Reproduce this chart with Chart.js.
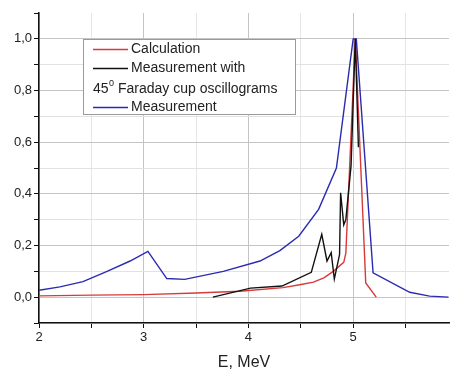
<!DOCTYPE html>
<html>
<head>
<meta charset="utf-8">
<style>
html,body{margin:0;padding:0;background:#fff;}
canvas{display:block;}
</style>
<script src="https://cdn.jsdelivr.net/npm/chart.js@4.4.0/dist/chart.umd.min.js"></script>
</head>
<body>
<canvas id="c" width="450" height="372"></canvas>
<script>
// Calculation (red)
const calcE = [2.0, 2.5, 3.0, 3.5, 3.92, 4.33, 4.49, 4.62, 4.72, 4.81, 4.91, 4.93, 5.02, 5.12, 5.22];
const calcV = [0.005, 0.008, 0.010, 0.016, 0.023, 0.037, 0.048, 0.058, 0.075, 0.100, 0.135, 0.170, 1.0, 0.055, 0.0];
// Measurement with 45° Faraday cup oscillograms (black)
const farE = [3.66, 4.02, 4.32, 4.60, 4.70, 4.75, 4.79, 4.82, 4.87, 4.88, 4.91, 4.93, 4.98, 5.02, 5.05];
const farV = [0.0, 0.035, 0.043, 0.096, 0.243, 0.140, 0.172, 0.070, 0.165, 0.404, 0.280, 0.300, 0.510, 1.0, 0.580];
// Measurement (blue)
const measE = [2.0, 2.2, 2.42, 2.65, 2.87, 3.04, 3.22, 3.39, 3.76, 4.11, 4.30, 4.48, 4.67, 4.84, 5.0, 5.03, 5.19, 5.54, 5.73, 5.91];
const measV = [0.027, 0.040, 0.060, 0.100, 0.140, 0.177, 0.072, 0.069, 0.100, 0.140, 0.180, 0.236, 0.340, 0.500, 1.0, 1.0, 0.094, 0.019, 0.004, 0.0];

const xMin = 2, xMax = 5.915, yMin = -0.1, yMax = 1.1;
const xTitle = 'E, MeV';
const legendItems = [
  {color: '#d83a3a', lines: [['Calculation']]},
  {color: '#111111', lines: [['Measurement with'], ['45', '0', ' Faraday cup oscillograms']]},
  {color: '#2b2bb0', lines: [['Measurement']]}
];

function pts(xs, ys){ return xs.map((x,i)=>({x:x, y:ys[i]})); }

const FONT = '"Liberation Sans", Arial, sans-serif';

const legendPlugin = {
  id: 'customLegend',
  afterDraw(chart){
    const ctx = chart.ctx;
    const bx = 83.5, by = 39.5, bw = 212, bh = 75;
    ctx.save();
    ctx.fillStyle = '#fff';
    ctx.fillRect(bx, by, bw, bh);
    ctx.strokeStyle = '#9a9a9a';
    ctx.lineWidth = 1;
    ctx.strokeRect(bx, by, bw, bh);
    ctx.font = '14px ' + FONT;
    ctx.textBaseline = 'middle';
    ctx.fillStyle = '#222';
    const rows = [49, 68, 89, 107];
    let r = 0;
    legendItems.forEach(item => {
      ctx.strokeStyle = item.color;
      ctx.lineWidth = 1.3;
      ctx.beginPath();
      ctx.moveTo(93, rows[r] + 0.5);
      ctx.lineTo(128, rows[r] + 0.5);
      ctx.stroke();
      item.lines.forEach((ln, k) => {
        const y = rows[r];
        if (ln.length === 1) {
          ctx.font = '14px ' + FONT;
          ctx.fillText(ln[0], 131, y);
        } else {
          let x = 93;
          ctx.font = '14px ' + FONT;
          ctx.fillText(ln[0], x, y);
          x += ctx.measureText(ln[0]).width + 0.5;
          ctx.font = '9px ' + FONT;
          ctx.fillText(ln[1], x, y - 5);
          x += ctx.measureText(ln[1]).width;
          ctx.font = '14px ' + FONT;
          ctx.fillText(ln[2], x, y);
        }
        r++;
      });
    });
    ctx.restore();
  }
};

const isMajorY = v => Math.round(v*10) % 2 === 0;

new Chart(document.getElementById('c'), {
  type: 'line',
  data: {
    datasets: [
      {label: 'Calculation', data: pts(calcE, calcV), borderColor: '#d83a3a', borderWidth: 1.4, pointRadius: 0, tension: 0, order: 3},
      {label: 'Measurement with 45° Faraday cup oscillograms', data: pts(farE, farV), borderColor: '#111111', borderWidth: 1.4, pointRadius: 0, tension: 0, order: 1},
      {label: 'Measurement', data: pts(measE, measV), borderColor: '#2b2bb0', borderWidth: 1.4, pointRadius: 0, tension: 0, order: 2}
    ]
  },
  options: {
    responsive: false,
    animation: false,
    events: [],
    layout: {padding: {top: 13, right: 1, left: 0, bottom: 0}},
    plugins: {legend: {display: false}, tooltip: {enabled: false}},
    scales: {
      x: {
        type: 'linear', min: xMin, max: xMax,
        border: {color: '#111', width: 1.5},
        grid: {
          color: ctx => (Math.abs(ctx.tick.value - Math.round(ctx.tick.value)) < 1e-6) ? '#c4c4c4' : '#e6e6e6',
          lineWidth: 1, tickLength: 5, tickColor: '#111', drawOnChartArea: true
        },
        ticks: {
          stepSize: 0.5, includeBounds: false, autoSkip: false, maxRotation: 0,
          color: '#222', font: {size: 13, family: FONT}, padding: 2,
          callback: v => (Math.abs(v - Math.round(v)) < 1e-6) ? String(Math.round(v)) : ''
        },
        title: {display: true, text: xTitle, color: '#222', font: {size: 16, family: FONT}, padding: {top: 0, bottom: 0}},
        afterFit: s => { s.height = 49; }
      },
      y: {
        type: 'linear', min: yMin, max: yMax,
        border: {color: '#111', width: 1.5},
        grid: {
          color: ctx => {
            const v = ctx.tick.value;
            if (v > 1.05) return 'rgba(0,0,0,0)';
            return isMajorY(v) ? '#c4c4c4' : '#e2e2e2';
          },
          lineWidth: 1, tickLength: 5, tickColor: '#111'
        },
        ticks: {
          stepSize: 0.1, includeBounds: false, autoSkip: false,
          color: '#222', font: {size: 13, family: FONT}, padding: 2,
          callback: v => {
            const k = Math.round(v*10);
            if (k < 0 || k > 10 || k % 2 !== 0) return '';
            return (k/10).toFixed(1).replace('.', ',');
          }
        },
        afterFit: s => { s.width = 39; }
      }
    }
  },
  plugins: [legendPlugin]
});
</script>
</body>
</html>
